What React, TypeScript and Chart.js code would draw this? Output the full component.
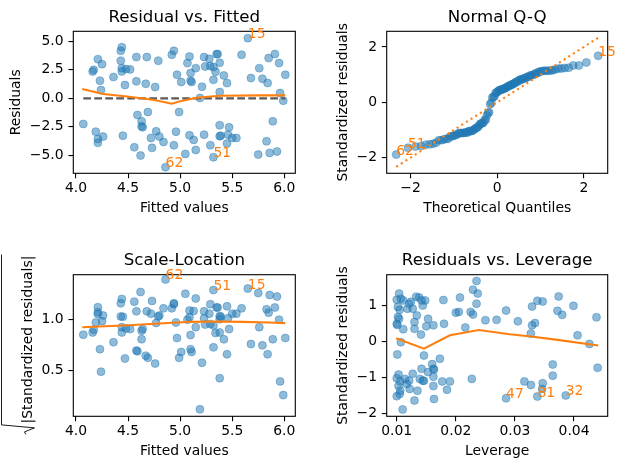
import React, { useEffect, useRef } from "react";
import { Chart, registerables } from "chart.js";

Chart.register(...registerables);

// ---------------- data ----------------
const fittedValues = [
  4.07, 4.16, 4.17, 4.21, 4.25, 4.23, 4.24, 4.19, 4.21, 4.21,
  4.26, 4.36, 4.44, 4.43, 4.43, 4.44, 4.44, 4.48, 4.52, 4.47,
  4.45, 4.58, 4.68, 4.79, 4.58, 4.67, 4.76, 4.59, 4.63, 4.63,
  4.64, 4.69, 4.56, 4.62, 4.72, 4.73, 4.77, 4.80, 4.84, 4.92,
  4.94, 4.97, 5.01, 4.99, 4.96, 4.94, 4.86, 5.05, 5.07, 5.09,
  5.10, 5.10, 5.11, 5.15, 5.19, 5.21, 5.23, 5.09, 5.13, 5.15,
  5.23, 5.24, 5.28, 5.29, 5.32, 5.34, 5.32, 5.35, 5.36, 5.38,
  5.38, 5.29, 5.32, 5.38, 5.38, 5.39, 5.46, 5.47, 5.45, 5.42,
  5.45, 5.50, 5.54, 5.59, 5.65, 5.68, 5.76, 5.79, 5.84, 5.85,
  5.91, 5.95, 6.01, 5.96, 5.99, 5.89, 5.83, 5.75, 5.86, 5.93,
];
const residuals = [
  -2.24, 2.36, 2.50, 3.44, 3.00, 1.55, 0.73, -2.92, -3.56, -3.90,
  -3.35, 1.87, 4.49, 4.17, 3.29, 2.65, 2.36, 2.57, 2.54, 1.17,
  -3.27, 3.62, 3.62, 3.29, 1.49, 1.28, 0.99, -1.46, -2.01, -2.45,
  -2.54, -1.20, -4.29, -5.01, -3.47, -4.34, -2.89, -3.35, -3.82, 3.82,
  4.17, 2.07, 1.43, -1.20, -2.92, -4.11, -6.03, -4.87, 3.09, 3.67,
  2.22, 1.55, 1.43, 2.65, 0.04, 1.02, 3.62, -3.24, -3.64, -4.52,
  -3.18, 2.80, 3.47, 2.83, 2.74, 2.33, 1.63, 3.88, 3.88, 3.12,
  0.55, -4.11, -5.16, -2.36, -3.32, -3.27, -3.18, -2.54, -3.96, 2.01,
  1.34, -3.47, -3.47, 3.82, 5.28, 1.78, 2.65, 1.72, 1.34, 3.53,
  3.88, 3.09, 2.07, 0.47, -0.20, -2.01, -3.76, -4.93, -4.78, -4.66,
];
const residualScale = 3.1;

const residLowessX = [4.06, 4.26, 4.49, 4.74, 4.92, 5.0, 5.16, 5.38, 5.77, 6.01];
const residLowessY = [0.82, 0.38, 0.17, -0.12, -0.47, -0.26, 0.06, 0.23, 0.26, 0.26];

const scaleLowessX = [4.06, 4.5, 4.8, 5.1, 5.38, 5.6, 5.85, 6.01];
const scaleLowessY = [0.924, 0.944, 0.96, 0.977, 0.98, 0.977, 0.97, 0.964];

const leverage = [
  0.0100, 0.0104, 0.0100, 0.0107, 0.0102, 0.0105, 0.0102, 0.0100, 0.0101, 0.0104,
  0.0111, 0.0107, 0.0101, 0.0103, 0.0100, 0.0106, 0.0103, 0.0106, 0.0105, 0.0110,
  0.0114, 0.0117, 0.0122, 0.0121, 0.0127, 0.0130, 0.0135, 0.0139, 0.0142, 0.0144,
  0.0146, 0.0146, 0.0111, 0.0118, 0.0121, 0.0124, 0.0127, 0.0133, 0.0138, 0.0142,
  0.0148, 0.0144, 0.0134, 0.0130, 0.0130, 0.0141, 0.0153, 0.0150, 0.0162, 0.0153,
  0.0160, 0.0162, 0.0163, 0.0162, 0.0162, 0.0163, 0.0173, 0.0177, 0.0185, 0.0190,
  0.0179, 0.0180, 0.0200, 0.0205, 0.0207, 0.0216, 0.0225, 0.0229, 0.0229, 0.0235,
  0.0237, 0.0235, 0.0227, 0.0250, 0.0269, 0.0285, 0.0285, 0.0305, 0.0316, 0.0327,
  0.0327, 0.0329, 0.0334, 0.0329, 0.0338, 0.0347, 0.0338, 0.0346, 0.0347, 0.0364,
  0.0364, 0.0372, 0.0374, 0.0380, 0.0386, 0.0399, 0.0406, 0.0426, 0.0438, 0.0440,
];
const stdResiduals = [
  -1.52, 1.33, 1.16, 1.19, 0.96, 0.88, 0.68, 0.49, 0.46, 0.63,
  0.34, -0.02, -0.36, -0.92, -1.02, -1.11, -1.23, -1.37, -1.46, -1.89,
  -1.04, -1.18, -1.32, -1.09, -0.90, -1.64, -1.37, -1.04, -0.76, -1.09,
  -0.39, -1.09, 1.14, 0.91, 1.05, 1.10, 0.91, 1.24, 1.22, 1.14,
  1.14, 1.00, 0.72, 0.54, 0.35, 0.19, 0.63, 0.42, 0.45, -0.85,
  -0.63, -0.76, -0.78, -0.98, -1.24, -1.60, -0.48, -1.11, -1.34, -1.11,
  1.15, 0.49, 0.80, 0.82, 1.22, 0.39, 0.82, 0.75, 1.44, 1.68,
  1.33, 1.05, -1.04, 0.59, 0.60, 0.86, -1.58, 0.56, -1.11, -1.21,
  0.22, 0.45, 0.51, 0.97, 1.13, 1.11, -1.53, -1.32, -1.16, -0.64,
  -0.95, 0.85, 1.25, 0.74, -1.50, 0.99, 0.17, -0.07, 0.67, -0.73,
];
const levLowessX = [0.0099, 0.0146, 0.019, 0.0239, 0.0291, 0.0327, 0.0369, 0.0441];
const levLowessY = [0.09, -0.2, 0.17, 0.32, 0.2, 0.14, 0.05, -0.11];

// outlier labels (observation ids) and their positions in the arrays
const residOutlierLabels = ["15", "62", "51"];
const residOutlierIdx = [84, 46, 72];
const qqOutlierLabels = ["62", "51", "15"];
const qqOutlierIdx = [19, 25, 69];
const levOutlierLabels = ["47", "81", "32"];
const levOutlierIdx = [76, 86, 94];

// tick labels
const fittedTicks = [4.0, 4.5, 5.0, 5.5, 6.0];
const residTicks = [-5.0, -2.5, 0.0, 2.5, 5.0];
const qqTicks = [-2, 0, 2];
const scaleTicks = [0.5, 1.0];
const levTicks = [0.01, 0.02, 0.03, 0.04];
const stdTicks = [-2, -1, 0, 1];

// ---------------- helpers ----------------
const FONT = '"DejaVu Sans", sans-serif';
const BLUE = "rgba(31,119,180,0.5)";
const ORANGE = "#ff7f0e";

function fmt(v: number, d: number) {
  return v.toFixed(d).replace("-", "\u2212");
}

function normInv(p: number) {
  const a = [-3.969683028665376e1, 2.209460984245205e2, -2.759285104469687e2, 1.38357751867269e2, -3.066479806614716e1, 2.506628277459239];
  const b = [-5.447609879822406e1, 1.615858368580409e2, -1.556989798598866e2, 6.680131188771972e1, -1.328068155288572e1];
  const c = [-7.784894002430293e-3, -3.223964580411365e-1, -2.400758277161838, -2.549732539343734, 4.374664141464968, 2.938163982698783];
  const d = [7.784695709041462e-3, 3.224671290700398e-1, 2.445134137142996, 3.754408661907416];
  const pl = 0.02425;
  if (p < pl) {
    const q = Math.sqrt(-2 * Math.log(p));
    return (((((c[0] * q + c[1]) * q + c[2]) * q + c[3]) * q + c[4]) * q + c[5]) / ((((d[0] * q + d[1]) * q + d[2]) * q + d[3]) * q + 1);
  }
  if (p > 1 - pl) {
    const q = Math.sqrt(-2 * Math.log(1 - p));
    return -(((((c[0] * q + c[1]) * q + c[2]) * q + c[3]) * q + c[4]) * q + c[5]) / ((((d[0] * q + d[1]) * q + d[2]) * q + d[3]) * q + 1);
  }
  const q = p - 0.5;
  const r = q * q;
  return ((((((a[0] * r + a[1]) * r + a[2]) * r + a[3]) * r + a[4]) * r + a[5]) * q) / (((((b[0] * r + b[1]) * r + b[2]) * r + b[3]) * r + b[4]) * r + 1);
}

const framePlugin = {
  id: "frame",
  afterDatasetsDraw(chart: any, _args: any, opts: any) {
    const { ctx, chartArea: a, scales } = chart;
    ctx.save();
    ctx.strokeStyle = "#000";
    ctx.lineWidth = 1.1;
    ctx.strokeRect(a.left, a.top, a.right - a.left, a.bottom - a.top);
    ctx.font = `13.9px ${FONT}`;
    ctx.fillStyle = ORANGE;
    ctx.textAlign = "left";
    ctx.textBaseline = "alphabetic";
    for (const n of opts.notes || []) {
      ctx.fillText(n.text, scales.x.getPixelForValue(n.x), scales.y.getPixelForValue(n.y));
    }
    ctx.restore();
  },
  afterDraw(chart: any, _args: any, opts: any) {
    const r = opts.radical;
    if (!r) return;
    const { ctx, chartArea: a } = chart;
    const fs = 13.9;
    ctx.save();
    ctx.font = `${fs}px ${FONT}`;
    const L = ctx.measureText(r.text).width;
    const wr = 12;
    const cy = (a.top + a.bottom) / 2;
    const startY = cy + (L + wr) / 2 - wr;
    ctx.translate(r.baseline, startY);
    ctx.rotate(-Math.PI / 2);
    ctx.fillStyle = "#000";
    ctx.textAlign = "left";
    ctx.textBaseline = "alphabetic";
    ctx.fillText(r.text, 0, 0);
    const V = r.baseline - r.barX;
    ctx.beginPath();
    ctx.moveTo(-wr + 1, -0.42 * fs);
    ctx.lineTo(-wr + 3.5, -0.52 * fs);
    ctx.lineTo(-wr + 7.5, 0.2 * fs);
    ctx.lineTo(-1.5, -V);
    ctx.lineTo(L + 1, -V);
    ctx.strokeStyle = "#000";
    ctx.lineWidth = 0.9;
    ctx.stroke();
    ctx.restore();
  },
};

type Spec = {
  left: number; top: number; width: number; height: number;
  yAxisWidth: number; xAxisHeight: number; padRight: number;
  titlePadTop: number; titlePadBottom: number; yTitlePad: number; xTitlePad: number;
  title: string; xLabel: string; yLabel: string | null;
  xMin: number; xMax: number; yMin: number; yMax: number;
  xTicks: number[]; yTicks: number[]; xDec: number; yDec: number;
  datasets: any[]; notes: any[]; radical?: any;
};

function buildConfig(p: Spec): any {
  const tickFont = { family: FONT, size: 13.9 };
  const grid = { drawOnChartArea: false, drawTicks: true, tickLength: 4.86, color: "#000", tickColor: "#000", lineWidth: 1.1, tickWidth: 1.1 };
  return {
    type: "scatter",
    data: { datasets: p.datasets },
    options: {
      animation: false,
      responsive: false,
      maintainAspectRatio: false,
      devicePixelRatio: 1,
      events: [],
      layout: { padding: { left: 0, top: 0, right: p.padRight, bottom: 0 } },
      plugins: {
        legend: { display: false },
        tooltip: { enabled: false },
        title: {
          display: true, text: p.title, fullSize: false, color: "#000",
          font: { family: FONT, size: 16.67, weight: "normal", lineHeight: 1.2 },
          padding: { top: p.titlePadTop, bottom: p.titlePadBottom },
        },
        frame: { notes: p.notes, radical: p.radical },
      },
      scales: {
        x: {
          type: "linear", position: "bottom", min: p.xMin, max: p.xMax,
          afterBuildTicks: (s: any) => { s.ticks = p.xTicks.map((v) => ({ value: v })); },
          afterFit: (s: any) => { s.height = p.xAxisHeight; },
          ticks: { callback: (v: any) => fmt(Number(v), p.xDec), color: "#000", font: tickFont, padding: 2.1, autoSkip: false, maxRotation: 0, minRotation: 0 },
          grid,
          border: { display: false },
          title: { display: true, text: p.xLabel, color: "#000", font: tickFont, padding: { top: 0, bottom: p.xTitlePad } },
        },
        y: {
          type: "linear", position: "left", min: p.yMin, max: p.yMax,
          afterBuildTicks: (s: any) => { s.ticks = p.yTicks.map((v) => ({ value: v })); },
          afterFit: (s: any) => { s.width = p.yAxisWidth; },
          ticks: { callback: (v: any) => fmt(Number(v), p.yDec), color: "#000", font: tickFont, padding: 4.86, autoSkip: false },
          grid,
          border: { display: false },
          title: { display: p.yLabel !== null, text: p.yLabel || "", color: "#000", font: tickFont, padding: { top: p.yTitlePad, bottom: 0 } },
        },
      },
    },
    plugins: [framePlugin],
  };
}

function scatterSet(xs: number[], ys: number[]) {
  return {
    data: xs.map((x, i) => ({ x, y: ys[i] })),
    backgroundColor: BLUE, borderColor: BLUE, borderWidth: 0.8, pointRadius: 4.0, showLine: false,
  };
}
function lineSet(xs: number[], ys: number[], color: string, dash: number[] = []) {
  return {
    data: xs.map((x, i) => ({ x, y: ys[i] })),
    borderColor: color, backgroundColor: color, borderWidth: 2.08, borderDash: dash,
    pointRadius: 0, showLine: true, fill: false, tension: 0,
  };
}

// ---------------- derived tables ----------------
const nObs = stdResiduals.length;
const qqOrder = stdResiduals.map((v, i) => [v, i]).sort((a, b) => a[0] - b[0]).map((e) => e[1]);
const qqSample = qqOrder.map((i) => stdResiduals[i]);
const qqTheory = qqSample.map((_, k) => normInv((k + 1) / (nObs + 1)));
const sqrtStd = residuals.map((r) => Math.sqrt(Math.abs(r) / residualScale));
const fMin = Math.min(...fittedValues);
const fMax = Math.max(...fittedValues);

const common = { xAxisHeight: 60.7, titlePadTop: 7.2, titlePadBottom: 4.1, xTitlePad: 16.96 };
const bottomRow = { xAxisHeight: 52.7, titlePadTop: 16.6, titlePadBottom: 4.1, xTitlePad: 8.96 };

const specs: Spec[] = [
  {
    left: 0, top: 0, width: 312, height: 234, yAxisWidth: 73.3, padRight: 16.7, yTitlePad: 8.06, ...common,
    title: "Residual vs. Fitted", xLabel: "Fitted values", yLabel: "Residuals",
    xMin: 3.974, xMax: 6.106, yMin: -6.57, yMax: 5.88, xTicks: fittedTicks, yTicks: residTicks, xDec: 1, yDec: 1,
    datasets: [
      lineSet(residLowessX, residLowessY, ORANGE),
      lineSet([fMin, fMax], [0, 0], "#5a5a5a", [7.7, 3.3]),
      scatterSet(fittedValues, residuals),
    ],
    notes: residOutlierLabels.map((t, k) => ({ text: t, x: fittedValues[residOutlierIdx[k]], y: residuals[residOutlierIdx[k]] })),
  },
  {
    left: 312, top: 0, width: 313, height: 234, yAxisWidth: 74.7, padRight: 17.3, yTitlePad: 22.76, ...common,
    title: "Normal Q-Q", xLabel: "Theoretical Quantiles", yLabel: "Standardized residuals",
    xMin: -2.55, xMax: 2.55, yMin: -2.565, yMax: 2.565, xTicks: qqTicks, yTicks: qqTicks, xDec: 0, yDec: 0,
    datasets: [
      lineSet([qqTheory[0], qqTheory[nObs - 1]], [qqTheory[0], qqTheory[nObs - 1]], ORANGE, [2.08, 3.44]),
      scatterSet(qqTheory, qqSample),
    ],
    notes: qqOutlierLabels.map((t, k) => {
      const rank = qqOrder.indexOf(qqOutlierIdx[k]);
      return { text: t, x: qqTheory[rank], y: qqSample[rank] };
    }),
  },
  {
    left: 0, top: 234, width: 312, height: 235, yAxisWidth: 73.3, padRight: 16.7, yTitlePad: 18.6, ...bottomRow,
    title: "Scale-Location", xLabel: "Fitted values", yLabel: null,
    xMin: 3.974, xMax: 6.106, yMin: 0.045, yMax: 1.442, xTicks: fittedTicks, yTicks: scaleTicks, xDec: 1, yDec: 1,
    datasets: [
      lineSet(scaleLowessX, scaleLowessY, ORANGE),
      scatterSet(fittedValues, sqrtStd),
    ],
    notes: residOutlierLabels.map((t, k) => ({ text: t, x: fittedValues[residOutlierIdx[k]], y: sqrtStd[residOutlierIdx[k]] })),
    radical: { text: "|Standardized residuals|", baseline: 31.7, barX: 1.5 },
  },
  {
    left: 312, top: 234, width: 313, height: 235, yAxisWidth: 74.7, padRight: 17.3, yTitlePad: 22.76, ...bottomRow,
    title: "Residuals vs. Leverage", xLabel: "Leverage", yLabel: "Standardized residuals",
    xMin: 0.0083, xMax: 0.0457, yMin: -2.08, yMax: 1.855, xTicks: levTicks, yTicks: stdTicks, xDec: 2, yDec: 0,
    datasets: [
      lineSet(levLowessX, levLowessY, ORANGE),
      scatterSet(leverage, stdResiduals),
    ],
    notes: levOutlierLabels.map((t, k) => ({ text: t, x: leverage[levOutlierIdx[k]], y: stdResiduals[levOutlierIdx[k]] })),
  },
];

function Panel({ spec }: { spec: Spec }) {
  const ref = useRef<HTMLCanvasElement | null>(null);
  useEffect(() => {
    const chart = new Chart(ref.current as HTMLCanvasElement, buildConfig(spec));
    return () => chart.destroy();
  }, [spec]);
  return (
    <canvas
      ref={ref}
      width={spec.width}
      height={spec.height}
      style={{ position: "absolute", left: spec.left, top: spec.top, width: spec.width, height: spec.height }}
    />
  );
}

export default function App() {
  return (
    <div style={{ position: "absolute", left: 0, top: 0, width: 625, height: 469, background: "#fff", overflow: "hidden" }}>
      {specs.map((s, i) => (
        <Panel key={i} spec={s} />
      ))}
    </div>
  );
}
